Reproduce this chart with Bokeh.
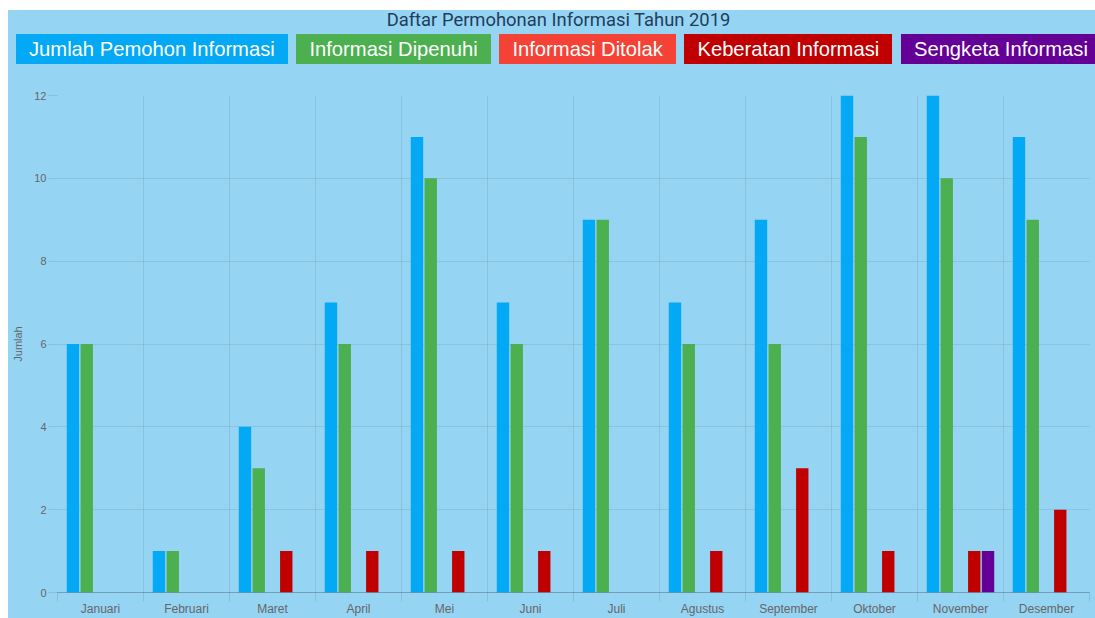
import numpy as np
from bokeh.plotting import figure
from bokeh.models import ColumnDataSource, FixedTicker, Range1d, Div
from bokeh.layouts import column
from bokeh.transform import dodge
from bokeh.embed import file_html
from bokeh.resources import INLINE

title_text = "Daftar Permohonan Informasi Tahun 2019"
months = ["Januari", "Februari", "Maret", "April", "Mei", "Juni", "Juli",
          "Agustus", "September", "Oktober", "November", "Desember"]
series_names = ["Jumlah Pemohon Informasi", "Informasi Dipenuhi", "Informasi Ditolak",
                "Keberatan Informasi", "Sengketa Informasi"]
jumlah = [6, 1, 4, 7, 11, 7, 9, 7, 9, 12, 12, 11]
dipenuhi = [6, 1, 3, 6, 10, 6, 9, 6, 6, 11, 10, 9]
ditolak = [0, 0, 0, 0, 0, 0, 0, 0, 0, 0, 0, 0]
keberatan = [0, 0, 1, 1, 1, 1, 0, 1, 3, 1, 1, 2]
sengketa = [0, 0, 0, 0, 0, 0, 0, 0, 0, 0, 1, 0]
y_ticks = [0, 2, 4, 6, 8, 10, 12]
y_label = "Jumlah"

colors = ["#03A9F4", "#4CAF50", "#F44336", "#C00000", "#650096"]
series_vals = [jumlah, dipenuhi, ditolak, keberatan, sengketa]
BG = "#96D4F4"

n = len(months)
centers = list(np.arange(n) + 0.5)
bounds = list(np.arange(n + 1).astype(float))

src = ColumnDataSource(dict(xc=centers, s0=jumlah, s1=dipenuhi, s2=ditolak,
                            s3=keberatan, s4=sengketa))

W = 1095
# header: title + legend boxes
boxes = "".join(
    f'<div style="background:{c};color:#fff;height:30px;line-height:30px;'
    f'padding:0 13px;font-family:\'Liberation Sans\',Arial,sans-serif;font-size:20.2px;'
    f'white-space:nowrap;flex:none;">{name}</div>'
    for c, name in zip(colors, series_names))
html = (
    f'<div style="width:{W}px;height:70px;box-sizing:border-box;border-top:10px solid #fff;'
    f'border-left:8px solid #fff;background:{BG};overflow:hidden;">'
    f'<div style="height:20px;line-height:20px;text-align:center;padding-left:14px;'
    f'font-family:Roboto,sans-serif;font-size:18.4px;color:#1F3D5C;">{title_text}</div>'
    f'<div style="display:flex;gap:8.7px;margin-top:4px;padding-left:8px;white-space:nowrap;">'
    f'{boxes}</div></div>'
)
header = Div(text=html, width=W, height=70, margin=0)

p = figure(width=W - 8, height=548, output_backend="svg", toolbar_location=None,
           x_range=Range1d(0, n), y_range=Range1d(0, 12),
           min_border_left=49, min_border_right=6, min_border_top=25, min_border_bottom=24,
           background_fill_color=BG, border_fill_color=BG, margin=(0, 0, 0, 8))
p.outline_line_color = None

slot = 0.8 / len(series_names)
for i, c in enumerate(colors):
    off = (i - (len(series_names) - 1) / 2) * slot
    p.vbar(x=dodge("xc", off), top=f"s{i}", bottom=0, width=slot * 0.9, source=src,
           fill_color=c, line_color=None)

# x axis
p.xaxis.ticker = FixedTicker(ticks=centers, minor_ticks=bounds)
p.xaxis.major_label_overrides = {float(c): m for c, m in zip(centers, months)}
p.xaxis.major_tick_out = 0
p.xaxis.major_tick_in = 0
p.xaxis.minor_tick_out = 9
p.xaxis.minor_tick_in = 0
p.xaxis.minor_tick_line_color = "black"
p.xaxis.minor_tick_line_alpha = 0.1
p.xaxis.axis_line_color = "black"
p.xaxis.axis_line_alpha = 0.25
p.xaxis.major_label_standoff = 0
p.xaxis.major_label_text_font = "Liberation Sans"
p.xaxis.major_label_text_font_size = "12px"
p.xaxis.major_label_text_color = "#666666"
p.xgrid.grid_line_color = None
p.xgrid.minor_grid_line_color = "black"
p.xgrid.minor_grid_line_alpha = 0.08

# y axis
p.yaxis.ticker = FixedTicker(ticks=y_ticks)
p.yaxis.major_tick_out = 9
p.yaxis.major_tick_in = 0
p.yaxis.minor_tick_line_color = None
p.yaxis.major_tick_line_color = "black"
p.yaxis.major_tick_line_alpha = 0.1
p.yaxis.axis_line_color = None
p.yaxis.major_label_standoff = 2
p.yaxis.major_label_text_font = "Liberation Sans"
p.yaxis.major_label_text_font_size = "11px"
p.yaxis.major_label_text_color = "#666666"
p.yaxis.axis_label = y_label
p.yaxis.axis_label_text_font = "Liberation Sans"
p.yaxis.axis_label_text_font_size = "11px"
p.yaxis.axis_label_text_font_style = "normal"
p.yaxis.axis_label_text_color = "#666666"
p.yaxis.axis_label_standoff = 7
p.ygrid.grid_line_color = "black"
p.ygrid.grid_line_alpha = 0.08

layout = column(header, p, spacing=0, margin=0,
                styles={"background": f"linear-gradient(to right, #ffffff 8px, {BG} 8px)"})
open("out.html", "w").write(file_html(layout, INLINE))
